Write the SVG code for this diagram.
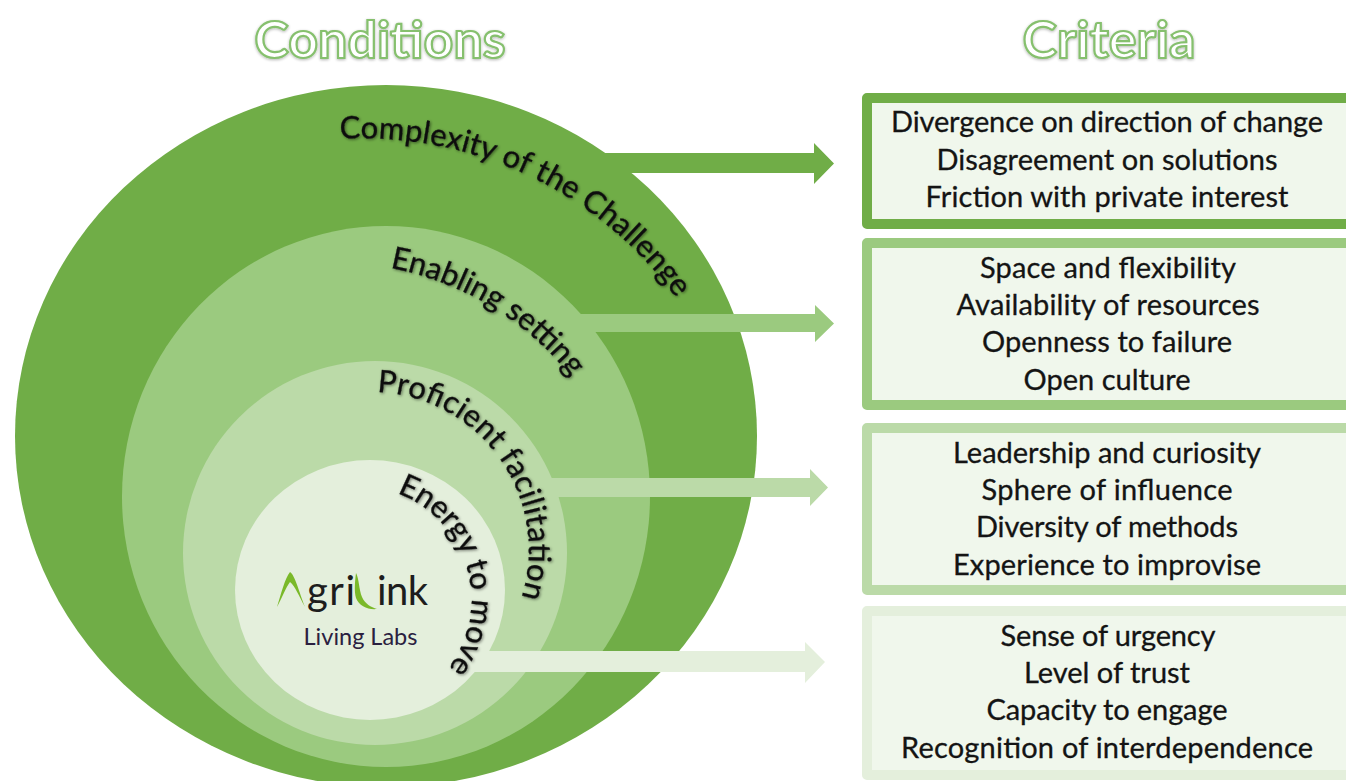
<svg xmlns="http://www.w3.org/2000/svg" width="1346" height="781" viewBox="0 0 1346 781">
<defs>
<style>
text{font-family:"Lato","Open Sans","Liberation Sans",sans-serif}
.c{font-size:29px;fill:#141414;stroke:#141414;stroke-width:.3;text-anchor:middle}
.a{font-size:31px;fill:#111;stroke:#111;stroke-width:.3}
.t{font-size:52px;font-weight:700;fill:#fff;stroke:#86c06e;stroke-width:2.2;text-anchor:middle}
.box{stroke-width:10;stroke-linejoin:round;fill:#f0f7ec}
.d1{fill:#70ad47}.d2{fill:#9bca7f}.d3{fill:#bbdaa8}.d4{fill:#e4efdc}
.s1{stroke:#70ad47}.s2{stroke:#9bca7f}.s3{stroke:#bbdaa8}.s4{stroke:#e4efdc}
</style>
<filter id="sh" x="-10%" y="-10%" width="120%" height="120%"><feGaussianBlur in="SourceAlpha" stdDeviation="1.6"/><feOffset dx="0.5" dy="1"/><feComponentTransfer><feFuncA type="linear" slope=".5"/></feComponentTransfer><feMerge><feMergeNode/><feMergeNode in="SourceGraphic"/></feMerge></filter>
<filter id="gl" x="-10%" y="-20%" width="120%" height="140%"><feGaussianBlur in="SourceAlpha" stdDeviation="1.5"/><feOffset dy="1"/><feComponentTransfer><feFuncA type="linear" slope=".3"/></feComponentTransfer><feMerge><feMergeNode/><feMergeNode in="SourceGraphic"/></feMerge></filter>
<path id="p1" d="M340 139A388 388 0 0 1 682 306"/>
<path id="p2" d="M390 268A302 302 0 0 1 578 386"/>
<path id="p3" d="M377 392A158 158 0 0 1 516 612"/>
<path id="p4" d="M397 493A113.5 113.5 0 0 1 440 678"/>
</defs>
<rect width="1346" height="781" fill="#fff"/>
<g id="circle-1"><ellipse class="d1" cx="386" cy="436" rx="371" ry="351"/></g>
<g id="circle-2"><ellipse class="d2" cx="386" cy="496.500" rx="264" ry="270.500"/></g>
<g id="circle-3"><ellipse class="d3" cx="375" cy="553" rx="192" ry="192"/></g>
<g id="circle-4"><ellipse class="d4" cx="370" cy="590" rx="135" ry="130"/></g>
<g id="connectors">
<path class="d1" d="M600 153H814V143L834 163.500L814 184V173H600Z"/>
<path class="d2" d="M570 314H815V305L834 323.500L815 342V332H570Z"/>
<path class="d3" d="M540 478H810V469L828 487.500L810 506V497H540Z"/>
<path class="d4" d="M465 651H805V642L825 662L805 683V672H465Z"/>
</g>
<g id="arc-labels" filter="url(#sh)">
<text class="a"><textPath href="#p1" textLength="388">Complexity of the Challenge</textPath></text>
<text class="a"><textPath href="#p2" textLength="216">Enabling setting</textPath></text>
<text class="a"><textPath href="#p3" textLength="290">Proficient facilitation</textPath></text>
<text class="a"><textPath href="#p4" textLength="212">Energy to move</textPath></text>
</g>
<g id="logo">
<path fill="#7ab929" d="M277 607C281 594 285 578 290 572C295 575 299 592 305 607C299 596 295 586 290 582C286 587 282 598 277 607Z"/>
<path fill="#7ab929" d="M356 573C359 578 359 590 362 597C365 604 371 607 377 609C368 610 359 606 356 598C354 591 355 581 356 573Z"/>
<text x="307" y="605" font-size="40" textLength="48" fill="#1d1d1d">gri</text>
<text x="377" y="605" font-size="40" textLength="51" fill="#1d1d1d">ink</text>
<text x="360.500" y="645" font-size="23.500" fill="#2a2040" text-anchor="middle">Living Labs</text>
</g>
<g id="title-conditions"><text class="t" x="380" y="58" filter="url(#gl)">Conditions</text></g>
<g id="title-criteria"><text class="t" x="1109" y="58" filter="url(#gl)">Criteria</text></g>
<g id="box-1">
<path class="box s1" d="M1351 98H867V224H1351"/>
<text class="c" x="1107" y="132" textLength="432">Divergence on direction of change</text>
<text class="c" x="1107" y="170" textLength="341">Disagreement on solutions</text>
<text class="c" x="1107" y="207" textLength="363">Friction with private interest</text>
</g>
<g id="box-2">
<path class="box s2" d="M1351 243H867V405H1351"/>
<text class="c" x="1108" y="278" textLength="256">Space and flexibility</text>
<text class="c" x="1108" y="315" textLength="303">Availability of resources</text>
<text class="c" x="1107" y="352" textLength="250">Openness to failure</text>
<text class="c" x="1107" y="390" textLength="167">Open culture</text>
</g>
<g id="box-3">
<path class="box s3" d="M1351 428H867V590H1351"/>
<text class="c" x="1107" y="463" textLength="308">Leadership and curiosity</text>
<text class="c" x="1107" y="500" textLength="251">Sphere of influence</text>
<text class="c" x="1107" y="537" textLength="262">Diversity of methods</text>
<text class="c" x="1107" y="575" textLength="308">Experience to improvise</text>
</g>
<g id="box-4">
<path class="box s4" d="M1351 611H867V775H1351"/>
<text class="c" x="1108" y="646" textLength="215">Sense of urgency</text>
<text class="c" x="1107" y="683" textLength="166">Level of trust</text>
<text class="c" x="1107" y="720" textLength="241">Capacity to engage</text>
<text class="c" x="1107" y="758" textLength="412">Recognition of interdependence</text>
</g>
</svg>
